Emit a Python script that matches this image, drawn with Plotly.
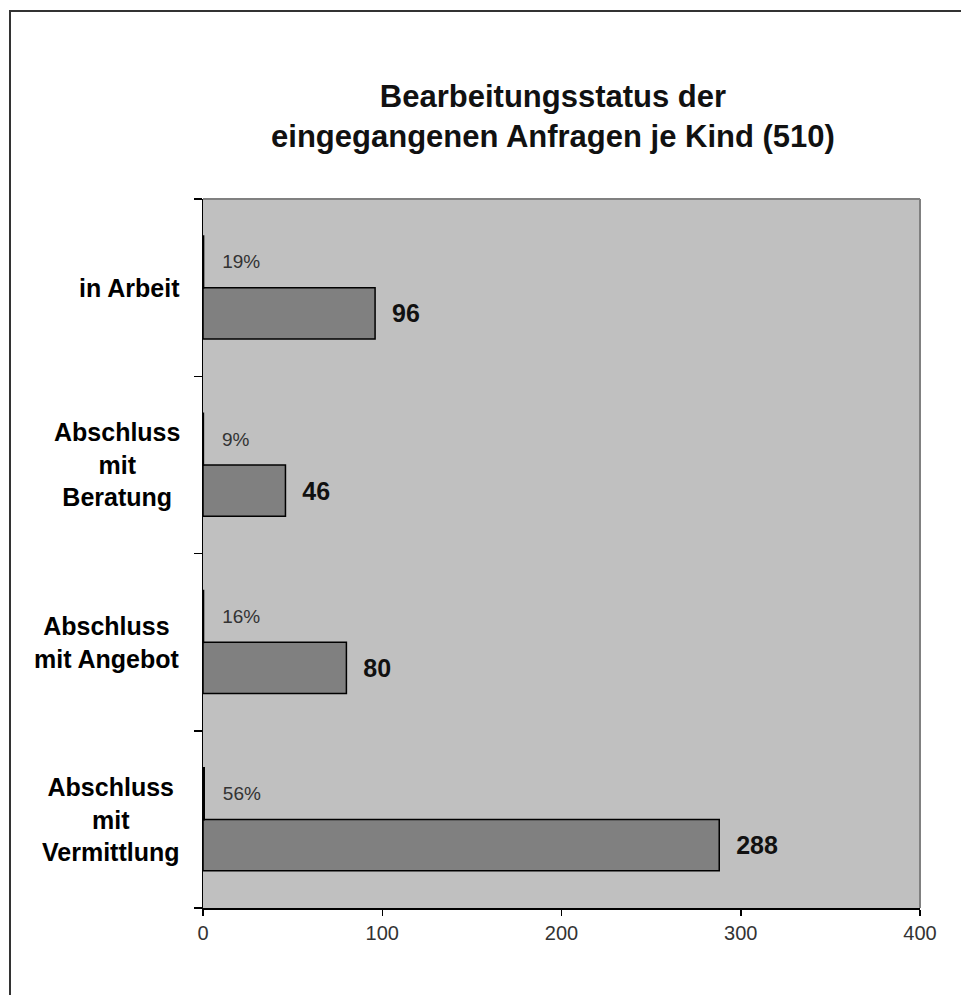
import plotly.graph_objects as go

# Data (bottom to top order)
categories = ["Abschluss mit Vermittlung", "Abschluss mit Angebot", "Abschluss mit Beratung", "in Arbeit"]
category_labels = ["Abschluss<br>mit<br>Vermittlung", "Abschluss<br>mit Angebot", "Abschluss<br>mit<br>Beratung", "in Arbeit"]
counts = [288, 80, 46, 96]
count_labels = ["288", "80", "46", "96"]
shares = [0.56, 0.16, 0.09, 0.19]
share_labels = ["56%", "16%", "9%", "19%"]
x_ticks = [0, 100, 200, 300, 400]

FONT = "Liberation Sans, Arial, sans-serif"

# plot-area geometry in pixels
W, H = 961, 995
L, R, T, B = 203, 920, 199, 908
pw, ph = R - L, B - T

fig = go.Figure()
fig.add_trace(go.Bar(
    y=categories, x=counts, orientation="h",
    marker=dict(color="#808080", line=dict(color="#000000", width=1.5)),
    text=["\u00a0\u00a0" + t for t in count_labels], textposition="outside",
    textfont=dict(family=FONT, size=25, color="#111111", weight="bold"),
    cliponaxis=False, constraintext="none", hoverinfo="skip", showlegend=False,
))
fig.add_trace(go.Bar(
    y=categories, x=shares, orientation="h",
    marker=dict(color="#808080", line=dict(color="#000000", width=2)),
    text=["\u00a0\u00a0\u00a0" + t for t in share_labels], textposition="outside",
    textfont=dict(family=FONT, size=19, color="#333333"),
    cliponaxis=False, constraintext="none", hoverinfo="skip", showlegend=False,
))

annotations = []
for c, lab in zip(categories, category_labels):
    annotations.append(dict(
        x=0, xref="paper", y=c, yref="y", xanchor="right", yanchor="middle",
        xshift=-21, text=lab, showarrow=False, align="center",
        font=dict(family=FONT, size=25, color="#000000", weight="bold"),
    ))

shapes = [
    # outer chart border
    dict(type="rect", xref="paper", yref="paper",
         x0=(10 - L) / pw, x1=(W + 10 - L) / pw,
         y0=(B - (H + 10)) / ph, y1=(B - 11) / ph,
         line=dict(color="#333333", width=2), fillcolor="rgba(0,0,0,0)", layer="below"),
    # top and right plot-area border
    dict(type="line", xref="paper", yref="paper", x0=0, x1=1, y0=1, y1=1,
         line=dict(color="#808080", width=2)),
    dict(type="line", xref="paper", yref="paper", x0=1, x1=1, y0=0, y1=1,
         line=dict(color="#808080", width=2)),
]

fig.update_layout(
    width=W, height=H,
    margin=dict(l=L, r=W - R, t=T, b=H - B, pad=0),
    paper_bgcolor="#ffffff", plot_bgcolor="#c0c0c0",
    barmode="group", bargap=0.42, bargroupgap=0,
    title=dict(text="Bearbeitungsstatus der<br>eingegangenen Anfragen je Kind (510)",
               x=553 / W, xanchor="center", xref="container",
               y=1 - 107 / H, yanchor="top", yref="container",
               font=dict(family=FONT, size=31, color="#111111", weight="bold")),
    xaxis=dict(range=[0, 400], tickvals=x_ticks, ticktext=[str(v) for v in x_ticks],
               showgrid=False, zeroline=False, showline=True, linecolor="#000000", linewidth=1.5,
               ticks="outside", ticklen=6, tickcolor="#000000", tickwidth=1.5,
               tickfont=dict(family=FONT, size=20, color="#333333")),
    yaxis=dict(categoryorder="array", categoryarray=categories, range=[-0.5, 3.5],
               showgrid=False, zeroline=False, showline=True, linecolor="#000000", linewidth=1.5,
               ticks="outside", ticklen=8, tickcolor="#000000", tickwidth=1.5,
               tickson="boundaries", showticklabels=False),
    annotations=annotations, shapes=shapes,
)

fig.write_html("out.html", config={"displayModeBar": False, "staticPlot": True},
               post_script="document.body.style.margin='0';document.body.style.overflow='hidden';")
